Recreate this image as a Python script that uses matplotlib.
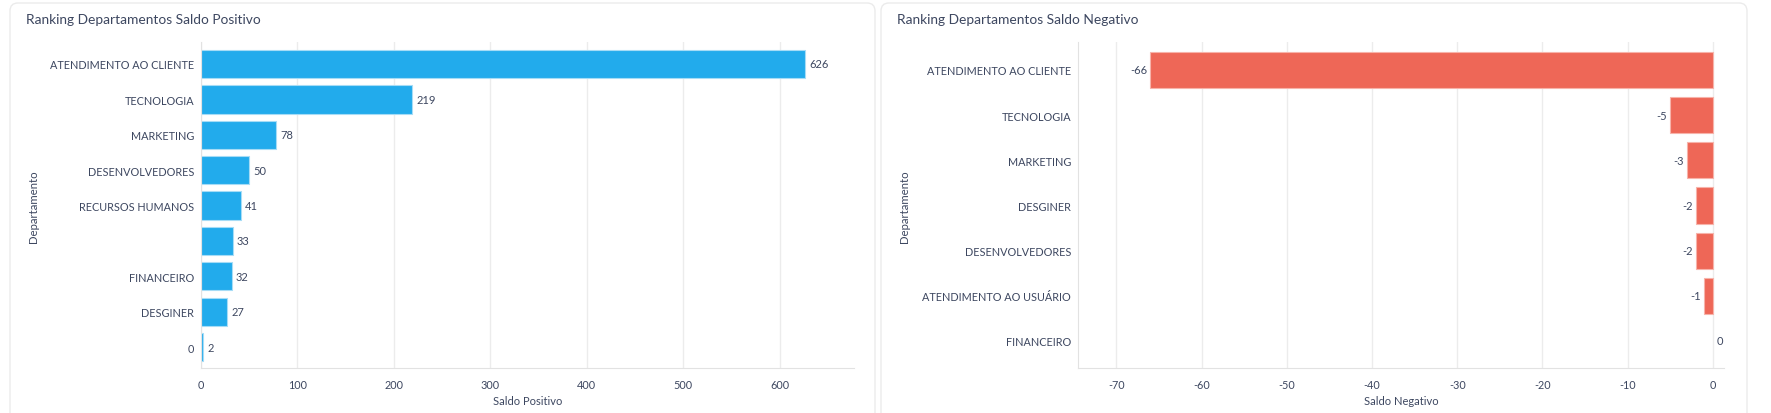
import matplotlib.pyplot as plt
from matplotlib.patches import FancyBboxPatch

# data
pos_departments = ["ATENDIMENTO AO CLIENTE", "TECNOLOGIA", "MARKETING", "DESENVOLVEDORES",
                   "RECURSOS HUMANOS", "", "FINANCEIRO", "DESGINER", "0"]
pos_values = [626, 219, 78, 50, 41, 33, 32, 27, 2]

neg_departments = ["ATENDIMENTO AO CLIENTE", "TECNOLOGIA", "MARKETING", "DESGINER",
                   "DESENVOLVEDORES", "ATENDIMENTO AO USUÁRIO", "FINANCEIRO"]
neg_values = [-66, -5, -3, -2, -2, -1, 0]

pos_ticks = [0, 100, 200, 300, 400, 500, 600]
neg_ticks = [-70, -60, -50, -40, -30, -20, -10, 0]

BLUE = "#22abec"
BLUE_EDGE = "#a6dcf6"
RED = "#ee6757"
RED_EDGE = "#f7b3aa"
TEXT = "#3d4760"
GRID = "#ececec"
AXIS = "#e2e2e2"

plt.rcParams["font.family"] = ["Lato", "DejaVu Sans"]
plt.rcParams["axes.unicode_minus"] = False

W, H = 1771, 414
fig = plt.figure(figsize=(W / 100, H / 100), dpi=100)


def fx(px):
    return px / W


def fy(px):
    return 1 - px / H


def card(x0, x1, y0):
    box = FancyBboxPatch((x0 / 100, -0.2), (x1 - x0) / 100, (H - y0) / 100 + 0.2,
                         boxstyle="round,pad=0,rounding_size=0.08",
                         transform=fig.dpi_scale_trans, facecolor="white",
                         edgecolor="#ebebeb", linewidth=1.0, zorder=0)
    fig.add_artist(box)


card(10, 875, 4)
card(881, 1747, 4)


def style_axes(ax, ticks):
    ax.set_xticks(ticks)
    ax.grid(axis="x", color=GRID, linewidth=1)
    ax.set_axisbelow(True)
    for s in ["top", "right"]:
        ax.spines[s].set_visible(False)
    ax.spines["bottom"].set_color(AXIS)
    ax.spines["left"].set_color(AXIS)
    ax.tick_params(length=0, colors=TEXT, labelsize=7.8)
    ax.tick_params(axis="x", pad=8)
    ax.tick_params(axis="y", pad=5)
    ax.patch.set_alpha(0)


# left chart
ax1 = fig.add_axes([fx(201), fy(369), fx(854 - 201), (369 - 43) / H])
y1 = list(range(len(pos_values)))
ax1.barh(y1, pos_values, height=0.8, color=BLUE, edgecolor=BLUE_EDGE, linewidth=0.8)
ax1.set_yticks(y1)
ax1.set_yticklabels(pos_departments)
ax1.set_ylim(8.59, -0.62)
ax1.set_xlim(0, 677)
style_axes(ax1, pos_ticks)
for yy, v in zip(y1, pos_values):
    ax1.annotate(str(v), (v, yy), xytext=(3, 0), textcoords="offset points",
                 ha="left", va="center", fontsize=8, color=TEXT)
ax1.set_xlabel("Saldo Positivo", fontsize=8, color=TEXT)
ax1.xaxis.set_label_coords(0.5, -0.083)

# right chart
ax2 = fig.add_axes([fx(1078), fy(369), fx(1724 - 1078), (369 - 43) / H])
y2 = list(range(len(neg_values)))
edges = [RED_EDGE if v != 0 else "none" for v in neg_values]
ax2.barh(y2, neg_values, height=0.8, color=RED, edgecolor=edges, linewidth=0.8)
ax2.set_yticks(y2)
ax2.set_yticklabels(neg_departments)
ax2.set_ylim(6.6, -0.62)
ax2.set_xlim(-74.5, 1.3)
style_axes(ax2, neg_ticks)
for yy, v in zip(y2, neg_values):
    if v < 0:
        ax2.annotate(str(v), (v, yy), xytext=(-2.5, 0), textcoords="offset points",
                     ha="right", va="center", fontsize=8, color=TEXT)
    else:
        ax2.annotate(str(v), (v, yy), xytext=(3, 0), textcoords="offset points",
                     ha="left", va="center", fontsize=8, color=TEXT)
ax2.set_xlabel("Saldo Negativo", fontsize=8, color=TEXT)
ax2.xaxis.set_label_coords(0.5, -0.083)

# titles and y labels
fig.text(fx(26), fy(20), "Ranking Departamentos Saldo Positivo", fontsize=9.9,
         color=TEXT, ha="left", va="center")
fig.text(fx(897), fy(20), "Ranking Departamentos Saldo Negativo", fontsize=9.9,
         color=TEXT, ha="left", va="center")
fig.text(fx(34), fy(207), "Departamento", fontsize=8.2, color=TEXT,
         rotation=90, ha="center", va="center")
fig.text(fx(904), fy(207), "Departamento", fontsize=8.2, color=TEXT,
         rotation=90, ha="center", va="center")

fig.savefig("out.png", dpi=100, facecolor="white")
